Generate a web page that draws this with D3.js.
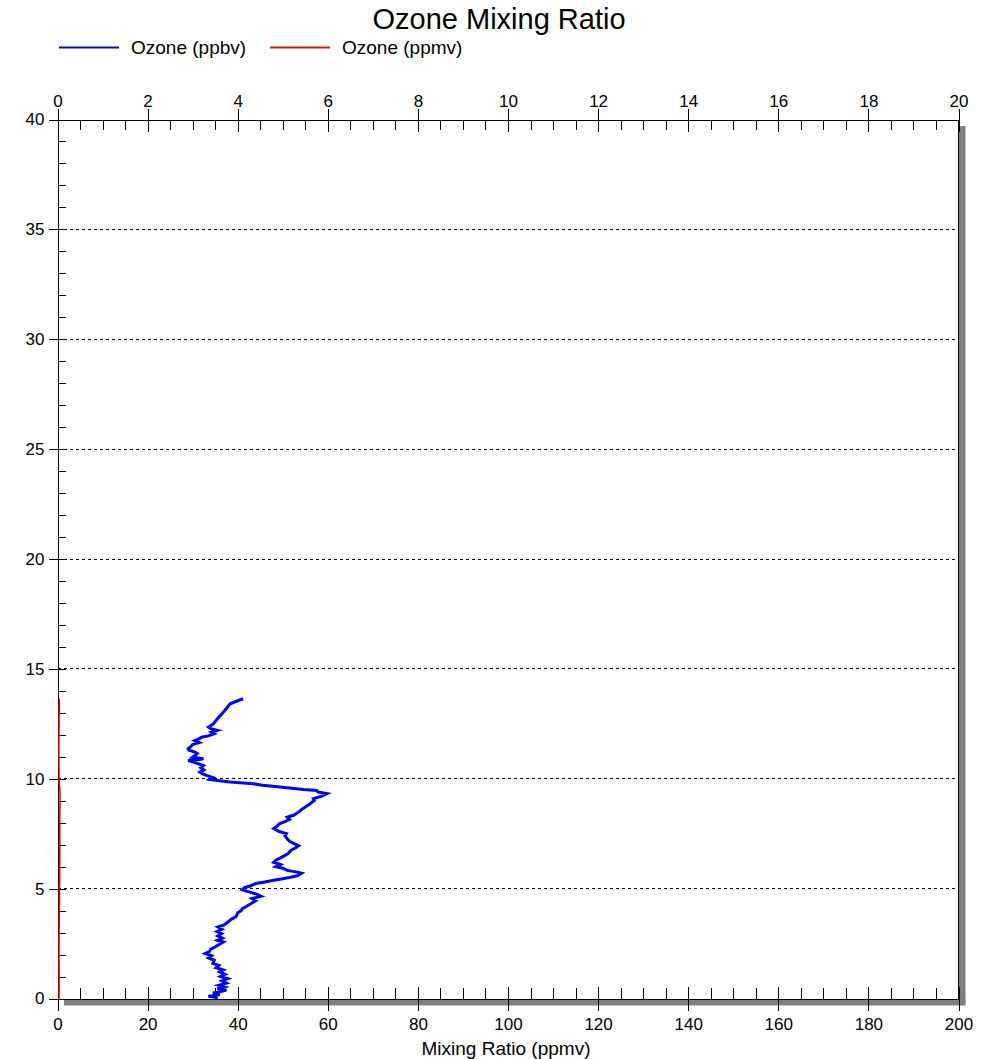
<!DOCTYPE html>
<html>
<head>
<meta charset="utf-8">
<script src="https://cdn.jsdelivr.net/npm/d3@7"></script>
<style>
  body { margin: 0; background: #fff; }
  svg { display: block; font-family: "Liberation Sans", Arial, sans-serif; }
</style>
</head>
<body>
<svg width="1000" height="1059"></svg>
<script>
// ozone sonde profile, altitude in km, ozone in ppbv
var altPpbv = [0.00, 0.05, 0.10, 0.18, 0.25, 0.30, 0.38, 0.45, 0.53, 0.60, 0.70, 0.80, 0.90, 1.00, 1.10, 1.21,
    1.30, 1.40, 1.51, 1.60, 1.74, 1.85, 1.95, 2.05, 2.15, 2.25, 2.35, 2.45, 2.57, 2.65, 2.75, 2.85, 2.95,
    3.05, 3.15, 3.26, 3.35, 3.48, 3.60, 3.70, 3.79, 3.90, 4.00, 4.09, 4.20, 4.32, 4.45, 4.55, 4.65, 4.75,
    4.85, 4.95, 5.05, 5.12, 5.23, 5.30, 5.38, 5.45, 5.53, 5.60, 5.70, 5.75, 5.83, 5.93, 6.00, 6.10, 6.20,
    6.30, 6.40, 6.51, 6.60, 6.74, 6.85, 6.95, 7.05, 7.15, 7.27, 7.40, 7.50, 7.60, 7.73, 7.85, 7.95, 8.05,
    8.15, 8.25, 8.35, 8.48, 8.60, 8.71, 8.85, 9.01, 9.09, 9.20, 9.32, 9.40, 9.47, 9.51, 9.62, 9.70, 9.77,
    9.85, 9.92, 9.97, 10.05, 10.15, 10.22, 10.30, 10.40, 10.50, 10.60, 10.70, 10.80, 10.83, 10.88, 10.91,
    10.98, 11.05, 11.15, 11.21, 11.30, 11.36, 11.45, 11.55, 11.65, 11.74, 11.82, 11.89, 11.95, 12.05,
    12.12, 12.20, 12.28, 12.35, 12.45, 12.50, 12.75, 13.03, 13.20, 13.41, 13.55, 13.64];
var ppbv = [34.0, 35.5, 33.5, 36.0, 34.5, 35.8, 37.5, 35.5, 37.0, 35.8, 37.5, 36.5, 37.8, 36.2, 37.2, 36.0,
    36.8, 35.2, 35.8, 34.5, 34.8, 33.5, 34.2, 32.8, 33.8, 34.0, 35.0, 35.8, 36.8, 35.5, 36.6, 35.6, 36.4,
    35.4, 36.5, 35.6, 37.0, 37.8, 38.5, 39.5, 39.8, 40.0, 40.8, 41.0, 42.0, 43.0, 44.0, 43.2, 45.2, 44.2,
    42.5, 41.0, 41.5, 42.8, 44.0, 46.0, 48.0, 50.0, 52.0, 53.5, 54.2, 53.2, 51.0, 50.0, 48.5, 49.5, 48.0,
    48.5, 49.5, 50.5, 51.2, 51.8, 52.8, 53.5, 52.5, 51.5, 51.0, 50.5, 50.8, 49.2, 48.0, 48.8, 49.2, 50.5,
    51.5, 51.0, 52.5, 53.5, 54.2, 55.0, 56.0, 57.0, 56.8, 58.5, 59.8, 57.8, 57.5, 54.6, 49.4, 45.5, 43.5,
    38.3, 35.5, 33.8, 34.5, 33.1, 32.2, 31.6, 32.5, 31.8, 32.4, 31.0, 29.5, 29.0, 31.5, 32.4,
    30.0, 30.5, 31.0, 30.5, 29.2, 29.0, 29.5, 30.0, 31.5, 30.5, 31.5, 32.0, 33.5, 34.8,
    34.2, 35.5, 34.0, 33.5, 34.2, 34.6, 35.6, 36.8, 37.5, 38.3, 40.0, 41.2];

// same sounding in ppmv, drawn on the top axis
var altPpmv = [0.0, 1.0, 2.0, 3.0, 4.0, 4.6, 5.0, 5.3, 6.0, 7.0, 8.0, 9.0, 9.3, 9.8, 10.5, 11.5, 12.5, 13.64];
var ppmv = [0.035, 0.037, 0.033, 0.036, 0.041, 0.045, 0.042, 0.048, 0.049, 0.052, 0.050, 0.056, 0.059, 0.038, 0.032, 0.030, 0.035, 0.041];

var seriesNames = ["Ozone (ppbv)", "Ozone (ppmv)"];
var seriesColors = ["#0000ff", "#e00000"];
var bottomTicks = d3.range(0, 201, 20);
var topTicks = d3.range(0, 21, 2);
var leftTicks = d3.range(0, 41, 5);

var svg = d3.select("svg"),
    pLeft = 57.5, pRight = 958.5, pTop = 119.5, pBottom = 998.5;

var x = d3.scaleLinear().domain([0, 200]).range([pLeft, pRight]);
var xTop = d3.scaleLinear().domain([0, 20]).range([pLeft, pRight]);
var y = d3.scaleLinear().domain([0, 40]).range([pBottom, pTop]);

// drop shadow of the frame
svg.append("rect").attr("x", pRight + 0.5).attr("y", 126).attr("width", 6.5).attr("height", pBottom - 126 + 6.5).attr("fill", "#808080");
svg.append("rect").attr("x", 64).attr("y", pBottom + 0.5).attr("width", pRight - 64 + 7).attr("height", 6.5).attr("fill", "#808080");

// dashed grid
svg.append("g").selectAll("line")
    .data(d3.range(5, 40, 5))
    .enter().append("line")
    .attr("x1", pLeft).attr("x2", pRight)
    .attr("y1", function (d) { return y(d); })
    .attr("y2", function (d) { return y(d); })
    .attr("stroke", "#000")
    .attr("stroke-dasharray", "3,3")
    .attr("shape-rendering", "crispEdges");

// axes
function styleAxis(g) {
    g.attr("shape-rendering", "crispEdges");
    g.selectAll("path").attr("stroke", "#000");
    g.selectAll("line").attr("stroke", "#000");
    g.selectAll("text").attr("fill", "#000").attr("font-size", 17).attr("font-family", "Liberation Sans, Arial, sans-serif");
}

// bottom: labels + outward major ticks, inward minor ticks
svg.append("g").attr("transform", "translate(0," + pBottom + ")")
    .call(d3.axisBottom(x).tickValues(bottomTicks).tickFormat(d3.format("d")).tickSize(12).tickPadding(7))
    .call(styleAxis);
svg.append("g").attr("transform", "translate(0," + pBottom + ")")
    .call(d3.axisTop(x).tickValues(d3.range(0, 201, 5)).tickFormat("").tickSize(11))
    .call(styleAxis);
svg.append("g").attr("transform", "translate(0," + pBottom + ")")
    .call(d3.axisTop(x).tickValues(bottomTicks).tickFormat("").tickSize(12))
    .call(styleAxis);

// top
svg.append("g").attr("transform", "translate(0," + pTop + ")")
    .call(d3.axisTop(xTop).tickValues(topTicks).tickFormat(d3.format("d")).tickSize(11).tickPadding(1.5))
    .call(styleAxis);
svg.append("g").attr("transform", "translate(0," + pTop + ")")
    .call(d3.axisBottom(xTop).tickValues(d3.range(0, 20.01, 0.5)).tickFormat("").tickSize(10))
    .call(styleAxis);
svg.append("g").attr("transform", "translate(0," + pTop + ")")
    .call(d3.axisBottom(xTop).tickValues(topTicks).tickFormat("").tickSize(12))
    .call(styleAxis);

// left
svg.append("g").attr("transform", "translate(" + pLeft + ",0)")
    .call(d3.axisLeft(y).tickValues(leftTicks).tickFormat(d3.format("d")).tickSize(9).tickPadding(4))
    .call(styleAxis);
svg.append("g").attr("transform", "translate(" + pLeft + ",0)")
    .call(d3.axisRight(y).tickValues(d3.range(0, 41, 1)).tickFormat("").tickSize(8.5))
    .call(styleAxis);

// right frame
svg.append("line")
    .attr("x1", pRight).attr("x2", pRight).attr("y1", pTop).attr("y2", pBottom)
    .attr("stroke", "#000").attr("shape-rendering", "crispEdges");

// profiles
var lineB = d3.line()
    .x(function (d, i) { return x(ppbv[i]); })
    .y(function (d) { return y(d); });
var lineR = d3.line()
    .x(function (d, i) { return xTop(ppmv[i]); })
    .y(function (d) { return y(d); });

svg.append("path").datum(altPpmv)
    .attr("d", lineR)
    .attr("fill", "none")
    .attr("stroke", seriesColors[1])
    .attr("stroke-width", 1.5);

svg.append("path").datum(altPpbv)
    .attr("d", lineB)
    .attr("fill", "none")
    .attr("stroke", seriesColors[0])
    .attr("stroke-width", 3)
    .attr("stroke-linejoin", "miter");

// title
svg.append("text")
    .attr("x", 499).attr("y", 29)
    .attr("text-anchor", "middle")
    .attr("font-size", 29)
    .text("Ozone Mixing Ratio");

// legend
var legend = svg.append("g").selectAll("g")
    .data(seriesNames)
    .enter().append("g")
    .attr("transform", function (d, i) { return "translate(" + (59 + i * 211) + ",47.5)"; });
legend.append("line")
    .attr("x1", 0).attr("x2", 60)
    .attr("stroke", function (d, i) { return i == 0 ? "#0a0ab0" : "#c81818"; })
    .attr("stroke-width", 2);
legend.append("text")
    .attr("x", 72).attr("dy", "0.35em")
    .attr("font-size", 19)
    .text(function (d) { return d; });

// axis title
svg.append("text")
    .attr("x", 506).attr("y", 1055)
    .attr("text-anchor", "middle")
    .attr("font-size", 19)
    .text("Mixing Ratio (ppmv)");
</script>
</body>
</html>
